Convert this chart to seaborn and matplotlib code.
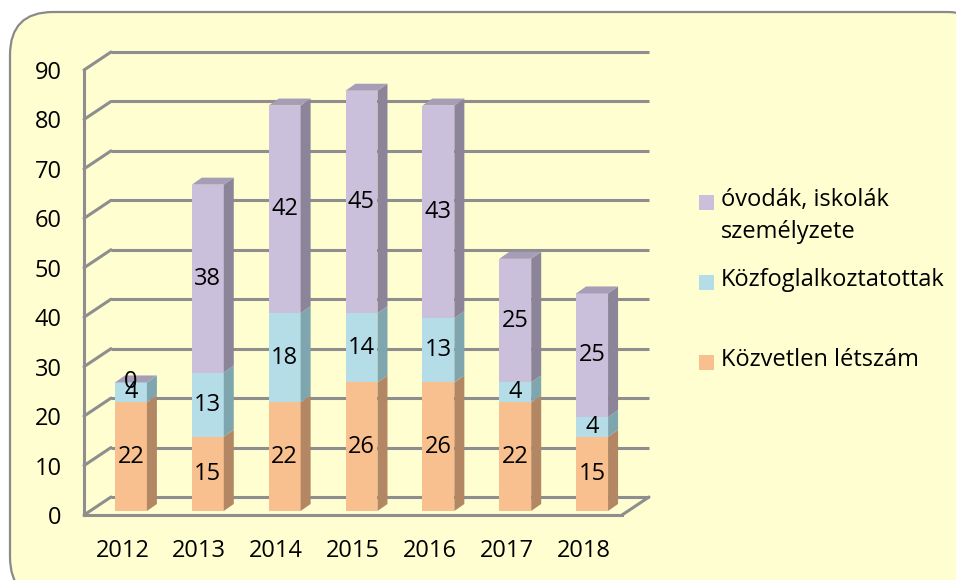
import matplotlib
matplotlib.use("Agg")
import matplotlib.pyplot as plt
import seaborn as sns
import pandas as pd
import numpy as np
from matplotlib.patches import FancyBboxPatch, Polygon, Rectangle
from matplotlib.transforms import ScaledTranslation

years = ["2012", "2013", "2014", "2015", "2016", "2017", "2018"]
kozvetlen = [22, 15, 22, 26, 26, 22, 15]
kozfogl = [4, 13, 18, 14, 13, 4, 4]
ovodak = [0, 38, 42, 45, 43, 25, 25]

series_names = ["Közvetlen létszám", "Közfoglalkoztatottak", "óvodák, iskolák\nszemélyzete"]
front_colors = ["#F9C08F", "#B5DDE7", "#CBC0DB"]
side_colors = ["#B38763", "#7FA6AF", "#8C8599"]
top_colors = ["#D9A57A", "#9CC3CC", "#A69DB6"]

sns.set_style("white")
plt.rcParams["font.family"] = ["Open Sans", "DejaVu Sans"]

W, H = 956, 580
fig = plt.figure(figsize=(W / 100, H / 100), dpi=100)
fig.patch.set_facecolor("white")

# rounded chart-area frame
frame = FancyBboxPatch((10 / W, 1 - 600 / H), 980 / W, 588 / H,
                       boxstyle="round,pad=0,rounding_size=0.045",
                       transform=fig.transFigure, facecolor="#FEFED0",
                       edgecolor="#8A8A8A", linewidth=1.6, mutation_aspect=W / H,
                       zorder=-5)
fig.patches.append(frame)

ax = fig.add_axes([84 / W, 65 / H, 538 / W, 445 / H])
ax.set_facecolor("none")

df = pd.DataFrame({"year": years, "a": kozvetlen, "b": kozfogl, "c": ovodak})
values = [df["a"].to_numpy(), df["b"].to_numpy(), df["c"].to_numpy()]
bottoms = [np.zeros(len(years)), df["a"].to_numpy(), (df["a"] + df["b"]).to_numpy()]

grid_col = "#8E8E8E"
shift = ScaledTranslation(8.5 / 100, 4 / 100, fig.dpi_scale_trans)

n_before = 0
seg_patches = []
for vals, bot, col in zip(values, bottoms, front_colors):
    sns.barplot(x=df["year"], y=vals, bottom=bot, color=col, width=0.416,
                saturation=1, ax=ax, zorder=3, linewidth=0)
    seg_patches.append(ax.patches[n_before:])
    n_before = len(ax.patches)

ax.set_xlim(-0.5, len(years) - 0.5)
ax.set_ylim(0, 90)
ax.set_yticks(range(0, 91, 10))

fig.canvas.draw()
for group in seg_patches:
    for p in group:
        p.set_transform(ax.transData + shift)

# 3D-ish depth faces derived from the bar geometry
ddx, ddy = 10, 7  # pixels
to_disp = lambda x, y: (ax.transData + shift).transform((x, y))
for k, group in enumerate(seg_patches):
    for i, p in enumerate(group):
        x0, y0 = p.get_x(), p.get_y()
        x1, y1 = x0 + p.get_width(), y0 + p.get_height()
        a = to_disp(x1, y0)
        b = to_disp(x1, y1)
        side = Polygon([a, a + [ddx, ddy], b + [ddx, ddy], b], closed=True,
                       facecolor=side_colors[k], edgecolor="none",
                       transform=None, zorder=3)
        ax.add_artist(side)
        if k == len(seg_patches) - 1:
            c = to_disp(x0, y1)
            top = Polygon([c, b, b + [ddx, ddy], c + [ddx, ddy]], closed=True,
                          facecolor=top_colors[k], edgecolor="none",
                          transform=None, zorder=3)
            ax.add_artist(top)

# segment labels
for k, group in enumerate(seg_patches):
    for i, p in enumerate(group):
        v = values[k][i]
        ax.text(p.get_x() + p.get_width() / 2, p.get_y() + p.get_height() / 2,
                str(v), ha="center", va="center", fontsize=17, color="black",
                transform=ax.transData + shift, zorder=5)

# back wall, floor and connector lines
bdx = 27 / (538 / 7)
bdy = 18 / (445 / 90)
for v in range(0, 91, 10):
    ax.plot([-0.5 + bdx, 6.5 + bdx], [v + bdy, v + bdy], color=grid_col,
            lw=2.2, clip_on=False, zorder=1, solid_capstyle="butt")
    ax.plot([-0.5, -0.5 + bdx], [v, v + bdy], color=grid_col, lw=2.2,
            clip_on=False, zorder=1)
ax.plot([6.5, 6.5 + bdx], [0, bdy], color=grid_col, lw=2.2, clip_on=False, zorder=1)

for s in ["top", "right"]:
    ax.spines[s].set_visible(False)
for s in ["left", "bottom"]:
    ax.spines[s].set_color(grid_col)
    ax.spines[s].set_linewidth(2.2)

ax.set_xticks(np.arange(-0.5, 7, 1), minor=True)
ax.tick_params(axis="x", which="minor", length=7, width=2, color=grid_col, direction="out")
ax.tick_params(axis="x", which="major", length=0, pad=17, labelsize=17, labelcolor="black")
ax.tick_params(axis="y", length=6, width=2, color=grid_col, pad=10, labelsize=17,
               labelcolor="black")
ax.set_xlabel("")
ax.set_ylabel("")
ax.grid(False)

# legend, top series first
leg_y = [203, 283, 363]
for name, col, yy in zip(series_names[::-1], front_colors[::-1], leg_y):
    fig.patches.append(Rectangle((699 / W, 1 - (yy + 7) / H), 15 / W, 15 / H,
                                 transform=fig.transFigure, facecolor=col,
                                 edgecolor="none"))
    fig.text(721 / W, 1 - (yy - 15) / H, name, ha="left", va="top",
             fontsize=17, linespacing=1.45, color="black")

fig.savefig("out.png", dpi=100)
